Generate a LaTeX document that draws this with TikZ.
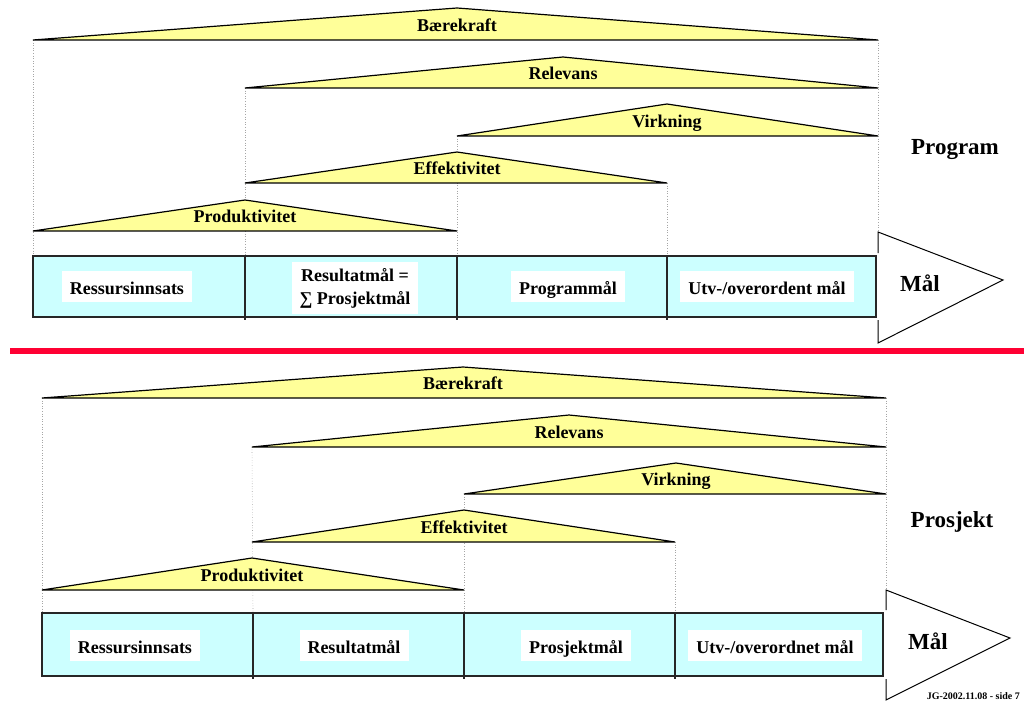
\documentclass[tikz,border=0pt]{standalone}
\usepackage{fontspec}
\setmainfont{Liberation Serif}
\definecolor{triyellow}{HTML}{FFFF99}
\definecolor{cellcyan}{HTML}{CCFFFF}
\definecolor{sepred}{HTML}{FF0033}
\begin{document}
\begin{tikzpicture}[x=1pt,y=-1pt,
  tri/.style={draw=black, line width=1.2pt, fill=triyellow, line join=miter},
  guide/.style={draw=gray!70, dotted, line width=0.6pt},
  trilbl/.style={font=\fontsize{18}{20}\selectfont\bfseries, inner sep=0pt, anchor=base},
  cellbox/.style={draw=black!85, line width=1.2pt, fill=cellcyan},
  divider/.style={draw=black!85, line width=1.2pt},
  celllbl/.style={fill=white, font=\fontsize{18}{23}\selectfont\bfseries, inner xsep=8pt, inner ysep=0pt,
     text height=15pt, text depth=0pt, minimum height=31pt, align=center},
  celllbltwo/.style={fill=white, font=\fontsize{18}{23}\selectfont\bfseries, inner xsep=8pt, inner ysep=0pt,
     minimum height=52pt, align=center},
  sidelbl/.style={font=\fontsize{23}{25}\selectfont\bfseries, inner sep=0pt, anchor=base},
  goalarrow/.style={draw=black, line width=1pt, line join=miter},
]
\useasboundingbox (0,0) rectangle (1024,711);

% ================= TOP: Program =================
\coordinate (pBL) at (33,40);  \coordinate (pBA) at (457,8);   \coordinate (pBR) at (878,40);
\coordinate (pRL) at (245,88); \coordinate (pRA) at (563,57);  \coordinate (pRR) at (878,88);
\coordinate (pVL) at (457,136);\coordinate (pVA) at (667,104); \coordinate (pVR) at (878,136);
\coordinate (pEL) at (245,183);\coordinate (pEA) at (457,152); \coordinate (pER) at (667,183);
\coordinate (pPL) at (33,231); \coordinate (pPA) at (245,200); \coordinate (pPR) at (457,231);
\coordinate (pC0) at (33,256);  \coordinate (pC1) at (245,256); \coordinate (pC2) at (457,256);
\coordinate (pC3) at (667,256); \coordinate (pC4) at (876,256);
\coordinate (pA0) at (878,232); \coordinate (pAT) at (1003,280); \coordinate (pA1) at (878,343);

\draw[guide] (pBL) -- (pC0);
\draw[guide] (pRL) -- (pC1);
\draw[guide] (pVL) -- (pC2);
\draw[guide] (pER) -- (pC3);
\draw[guide] (pBR) -- (pA0);

\draw[tri] (pBL) -- (pBA) -- (pBR) -- cycle;
\draw[tri] (pRL) -- (pRA) -- (pRR) -- cycle;
\draw[tri] (pVL) -- (pVA) -- (pVR) -- cycle;
\draw[tri] (pEL) -- (pEA) -- (pER) -- cycle;
\draw[tri] (pPL) -- (pPA) -- (pPR) -- cycle;
\node[trilbl] (pBt) at (457,31.5) {Bærekraft};
\node[trilbl] (pRt) at (563,79.5) {Relevans};
\node[trilbl] (pVt) at (667,127.5) {Virkning};
\node[trilbl] (pEt) at (457,174.5) {Effektivitet};
\node[trilbl] (pPt) at (245,222.5) {Produktivitet};

\draw[cellbox] (pC0) rectangle (876,317);
\draw[divider] (pC1) -- (245,320);
\draw[divider] (pC2) -- (457,320);
\draw[divider] (pC3) -- (667,320);

\draw[goalarrow] (878,253) -- (pA0) -- (pAT) -- (pA1) -- (878,320);
\node[sidelbl] (pMaal) at (920,291.5) {Mål};
\node[sidelbl] (pProg) at (955,155) {Program};

\node[celllbl] (pL1) at (127,286.5) {Ressursinnsats};
\node[celllbltwo] (pL2) at (355,288) {Resultatmål =\\∑ Prosjektmål};
\node[celllbl] (pL3) at (568,286.5) {Programmål};
\node[celllbl] (pL4) at (767,286.5) {Utv-/overordent mål};

% ================= separator =================
\coordinate (sepL) at (10,351);
\coordinate (sepR) at (1024,351);
\draw[sepred, line width=6pt] (sepL) -- (sepR);

% ================= BOTTOM: Prosjekt =================
\coordinate (qBL) at (42,398);  \coordinate (qBA) at (463,367);  \coordinate (qBR) at (886,398);
\coordinate (qRL) at (252,447); \coordinate (qRA) at (569,415);  \coordinate (qRR) at (886,447);
\coordinate (qVL) at (464,494); \coordinate (qVA) at (676,463);  \coordinate (qVR) at (886,494);
\coordinate (qEL) at (252,542); \coordinate (qEA) at (464,510);  \coordinate (qER) at (675,542);
\coordinate (qPL) at (42,590);  \coordinate (qPA) at (252,558);  \coordinate (qPR) at (464,590);
\coordinate (qC0) at (42,613);  \coordinate (qC1) at (253,613); \coordinate (qC2) at (464,613);
\coordinate (qC3) at (675,613); \coordinate (qC4) at (883,613);
\coordinate (qA0) at (886,590); \coordinate (qAT) at (1010,638); \coordinate (qA1) at (886,700);

\draw[guide] (qBL) -- (qC0);
\draw[guide] (qRL) -- (qC1);
\draw[guide] (qVL) -- (qC2);
\draw[guide] (qER) -- (qC3);
\draw[guide] (qBR) -- (qA0);

\draw[tri] (qBL) -- (qBA) -- (qBR) -- cycle;
\draw[tri] (qRL) -- (qRA) -- (qRR) -- cycle;
\draw[tri] (qVL) -- (qVA) -- (qVR) -- cycle;
\draw[tri] (qEL) -- (qEA) -- (qER) -- cycle;
\draw[tri] (qPL) -- (qPA) -- (qPR) -- cycle;
\node[trilbl] (qBt) at (463,389) {Bærekraft};
\node[trilbl] (qRt) at (569,438) {Relevans};
\node[trilbl] (qVt) at (676,485) {Virkning};
\node[trilbl] (qEt) at (464,533) {Effektivitet};
\node[trilbl] (qPt) at (252,581) {Produktivitet};

\draw[cellbox] (qC0) rectangle (883,676);
\draw[divider] (qC1) -- (253,679);
\draw[divider] (qC2) -- (464,679);
\draw[divider] (qC3) -- (675,679);

\draw[goalarrow] (886,610) -- (qA0) -- (qAT) -- (qA1) -- (886,679);
\node[sidelbl] (qMaal) at (928,649) {Mål};
\node[sidelbl] (qProj) at (952,527) {Prosjekt};

\node[celllbl] (qL1) at (135,645.5) {Ressursinnsats};
\node[celllbl] (qL2) at (354,645.5) {Resultatmål};
\node[celllbl] (qL3) at (576,645.5) {Prosjektmål};
\node[celllbl] (qL4) at (775,645.5) {Utv-/overordnet mål};

\node[font=\fontsize{10}{12}\selectfont\bfseries, inner sep=0pt, anchor=base east] (foot) at (1020,699) {JG-2002.11.08 - side 7};
\end{tikzpicture}
\end{document}
